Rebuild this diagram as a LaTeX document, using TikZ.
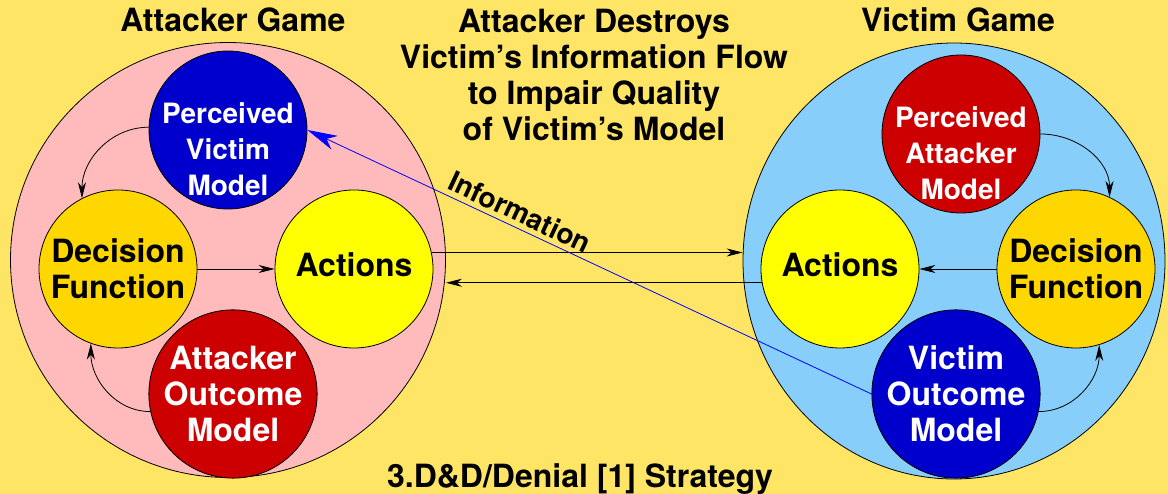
\documentclass[tikz,border=0pt]{standalone}
\usepackage{fontspec}
\setmainfont{TeX Gyre Heros}
\usetikzlibrary{arrows.meta, shapes.geometric, positioning}

\definecolor{bgyellow}{RGB}{255,229,102}
\definecolor{gamepink}{RGB}{255,187,187}
\definecolor{gameblue}{RGB}{135,206,250}
\definecolor{modelblue}{RGB}{0,0,204}
\definecolor{modelred}{RGB}{204,0,0}
\definecolor{decgold}{RGB}{255,215,0}
\definecolor{actyellow}{RGB}{255,255,0}

\newcommand{\bigfont}{\fontsize{32}{36}\selectfont\bfseries}
\newcommand{\modelfont}{\fontsize{28}{36}\selectfont\bfseries}
\newcommand{\infofont}{\fontsize{28}{32}\selectfont\bfseries}

\tikzset{
    game/.style = {draw, circle, minimum size=435pt, inner sep=0pt, line width=0.8pt},
    part/.style = {draw, circle, minimum size=158pt, inner sep=0pt, line width=0.8pt,
                   align=center, font=\bigfont},
    perceived/.style = {part, label={[text=white, font=\modelfont, align=center,
                        inner sep=0pt, yshift=-19pt]center:{#1}}},
    title/.style = {inner sep=0pt, align=center, font=\bigfont},
    flow/.style = {line width=0.8pt, -{Stealth[length=16pt, width=8pt, inset=5pt]}},
    infoflow/.style = {draw=blue, line width=0.8pt, -{Stealth[length=30pt, width=15pt, inset=9pt]}}
}

\begin{document}
\begin{tikzpicture}[x=1pt, y=1pt]
    \useasboundingbox (0,0) rectangle (1168,494);
    \fill[bgyellow] (0,0) rectangle (1168,494);

    % the two games
    \node[game, fill=gamepink] (agame) at (228,234) {};
    \node[game, ellipse, fill=gameblue, minimum width=422pt, minimum height=436pt] (vgame) at (954,233) {};

    % attacker side
    \node[perceived={Perceived\\Victim\\Model}, fill=modelblue] (pvm) at (228,364) {};
    \node[part, fill=decgold] (adec) at (118,225) {Decision\\Function};
    \node[part, fill=actyellow, text depth=8pt] (aact) at (354,225) {Actions};
    \node[part, fill=modelred, text=white] (aom) at (233,100) {Attacker\\Outcome\\Model};

    % victim side
    \node[perceived={Perceived\\Attacker\\Model}, fill=modelred] (pam) at (961,360) {};
    \node[part, fill=actyellow, text depth=8pt] (vact) at (840,225) {Actions};
    \node[part, fill=decgold] (vdec) at (1076,225) {Decision\\Function};
    \node[part, fill=modelblue, text=white] (vom) at (956,100) {Victim\\Outcome\\Model};

    % titles
    \node[title, anchor=base] (atitle) at (233,462) {Attacker Game};
    \node[title, anchor=base] (vtitle) at (958,462) {Victim Game};
    \node[title] (goal) at (594,419) {Attacker Destroys\\Victim's Information Flow\\to Impair Quality\\of Victim's Model};
    \node[title, anchor=base] (strategy) at (580,6) {3.D\&D/Denial [1] Strategy};

    % loops inside the games
    \draw[flow] (pvm.178) to[out=180, in=90] (adec.117);
    \draw[flow] (adec) -- (aact);
    \draw[flow] (aom.192) to[out=180, in=-90] (adec.250);

    \draw[flow] (pam.0) to[out=0, in=90] (vdec.65);
    \draw[flow] (vdec) -- (vact);
    \draw[flow] (vom.348) to[out=0, in=-90] (vdec.287);

    % between the games
    \draw[flow] (aact.12) -- (aact.12 -| vgame.west);
    \draw[flow] (vact.190) -- (vact.190 -| agame.east);
    \draw[infoflow] (vom.west) -- (pvm.east)
        node[pos=0.635, sloped, above=5pt, inner sep=0pt, text=black, font=\infofont] (info) {Information};
\end{tikzpicture}
\end{document}
